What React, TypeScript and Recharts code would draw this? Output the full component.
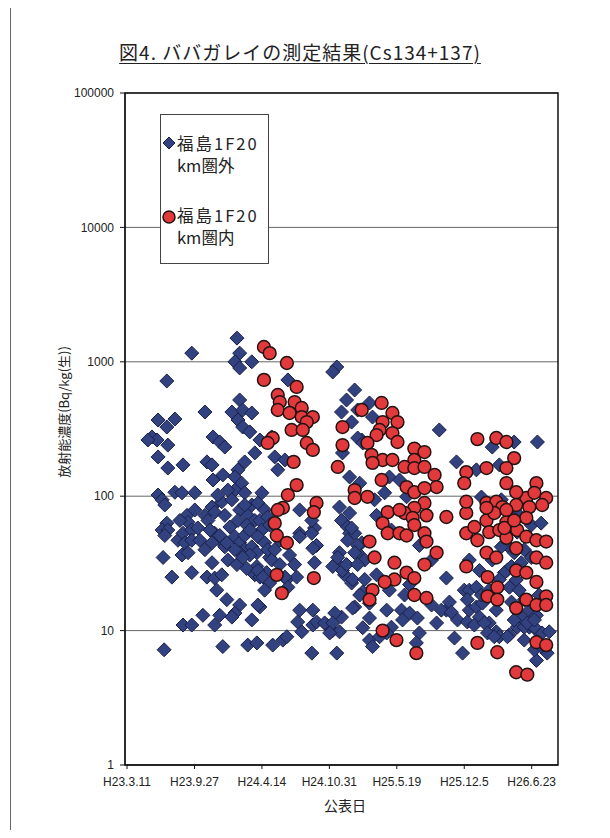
import React from 'react';
import { ScatterChart, Scatter, XAxis, YAxis, CartesianGrid, ReferenceArea } from 'recharts';

// x = days after H23.3.11 (publication date), y = Bq/kg
const outsideH23: [number, number][] = [
  [192, 1160], [118, 720], [231, 423], [92, 369], [142, 375], [118, 327], [74, 276], [89, 262], [62, 262],
  [121, 240], [255, 276], [275, 253], [290, 232], [92, 196], [121, 162], [166, 171], [237, 180], [252, 171],
  [284, 144], [255, 132], [142, 107], [163, 106], [201, 106], [92, 102], [104, 94], [112, 86], [281, 91],
  [252, 83], [231, 72], [260, 76], [240, 66], [178, 72], [181, 64], [118, 63], [104, 56], [121, 56], [112, 51],
  [151, 47], [166, 53], [192, 56], [210, 58], [172, 45], [192, 47], [260, 53], [275, 47], [290, 42], [252, 45],
  [107, 35], [163, 36.5], [181, 38], [252, 32], [133, 25], [192, 27], [237, 25], [260, 24.6], [281, 26],
  [266, 20], [225, 13], [275, 13], [260, 11], [166, 11], [192, 11], [110, 7.2], [284, 7.6], [275, 51],
  [269, 102], [290, 72], [246, 56], [216, 47], [231, 40], [157, 66], [201, 79],
];

const outsideH24: [number, number][] = [
  [326, 1500], [334, 1160], [320, 1000], [370, 1000], [334, 900], [334, 520], [311, 423], [343, 438], [370, 416],
  [329, 369], [343, 327], [364, 301], [379, 210], [349, 180], [329, 157], [320, 139], [340, 125], [320, 111],
  [349, 106], [334, 79], [358, 72], [379, 66], [329, 66], [370, 86], [320, 50], [334, 45], [349, 40], [370, 42],
  [385, 38], [379, 26], [296, 17], [334, 15.5], [320, 13.5], [311, 12.6], [370, 12], [358, 7.8], [385, 8.1],
  [394, 15], [432, 7.8], [462, 8.5], [474, 9], [518, 9.8], [512, 14.2], [551, 14.2], [551, 11], [592, 11],
  [610, 10], [548, 6.8], [622, 6.8], [630, 83], [645, 63], [556, 58], [562, 43], [556, 32], [630, 38], [622, 32],
  [645, 26], [394, 66], [355, 61], [296, 45], [334, 38], [364, 36.5], [423, 35], [385, 30], [414, 27], [394, 25],
  [474, 24], [503, 25], [512, 53], [548, 53], [305, 59], [349, 51], [299, 33.5], [326, 31], [355, 29],
  [622, 915], [610, 840], [651, 520], [636, 423], [477, 733], [394, 262], [429, 276], [438, 196], [468, 186],
  [447, 157], [400, 106], [388, 89], [408, 79], [417, 70], [400, 56], [388, 50], [408, 45], [417, 40],
  [429, 33.5], [388, 28], [403, 25], [423, 22.6], [468, 25], [477, 21], [512, 79], [548, 66], [512, 50],
  [551, 41], [610, 30], [639, 28], [636, 66], [654, 59], [636, 12.6], [616, 13.5], [388, 15.5], [506, 11.6],
  [562, 11.6], [586, 11.4], [639, 210], [660, 139], [660, 75], [660, 53], [651, 31], [625, 35], [610, 11.4],
  [630, 9.8], [601, 9.6], [299, 111], [311, 94], [349, 86], [364, 56], [343, 35], [320, 40], [423, 61],
  [453, 47], [438, 40], [482, 36.5], [497, 31], [453, 31], [408, 20], [654, 47],
];

const outsideH25: [number, number][] = [
  [675, 617], [684, 438], [696, 262], [666, 22.6], [675, 53], [696, 45], [684, 38], [675, 15], [666, 356],
  [719, 494], [728, 388], [926, 311], [977, 180], [684, 271], [699, 249], [690, 125], [778, 139], [808, 132],
  [734, 94], [764, 106], [829, 99], [666, 58], [684, 43], [675, 38], [669, 24], [699, 19.4], [719, 16],
  [669, 14.7], [719, 12.4], [699, 10.5], [719, 8.5], [728, 7.6], [749, 9], [770, 14.2], [814, 14.2], [817, 12],
  [838, 13.5], [861, 12.4], [867, 9.6], [858, 8.1], [784, 10.6], [770, 9.6], [918, 11.4], [947, 14.2],
  [956, 16.3], [971, 8.8], [995, 6.8], [1015, 14.2], [947, 24.6], [1000, 20], [1015, 20], [1009, 17],
  [932, 14.2], [962, 13.7], [980, 12], [1009, 11.6], [740, 72], [784, 56], [705, 33.5], [740, 26], [778, 20],
  [823, 18.4], [838, 22], [867, 43], [903, 33.5], [903, 15.5], [684, 31], [705, 24], [690, 18.4], [1015, 33.5],
];

const outsideH26: [number, number][] = [
  [1217, 253], [1083, 232], [1036, 157], [1104, 171], [1036, 15], [1045, 12.6], [1074, 11.4], [1095, 9.8],
  [1104, 9], [1134, 9.3], [1157, 10.6], [1172, 12.4], [1193, 10.6], [1214, 10.1], [1231, 9.6], [1252, 9.8],
  [1128, 28.2], [1154, 23.8], [1134, 21], [1036, 21], [1054, 16], [1095, 14.2], [1193, 14.2], [1214, 13],
  [1246, 6.8], [1214, 6], [1148, 253], [1051, 98.6], [1080, 86], [1110, 94], [1157, 75], [1140, 70],
  [1128, 43], [1157, 54], [1199, 61], [1228, 63], [1110, 42], [1148, 38], [1178, 40], [1199, 35], [1083, 33.5],
  [1119, 27], [1140, 30], [1169, 32], [1051, 18.4], [1030, 11], [1060, 11.4], [1140, 16.3], [1148, 12],
  [1178, 10.6], [1208, 10.6], [1069, 9.6], [1089, 9], [1128, 9], [1178, 8.5], [1208, 7.2], [1228, 7.6],
  [1187, 11.4], [1208, 12], [1045, 28], [1104, 24], [1163, 20], [1222, 18.4], [1178, 17], [1074, 20],
];

const insideH24: [number, number][] = [
  [406, 1290], [423, 1160], [474, 980], [406, 733], [503, 650], [447, 566], [453, 502], [447, 438], [497, 502],
  [518, 453], [482, 416], [518, 388], [551, 388], [533, 356], [488, 311], [521, 311], [432, 271], [417, 249],
  [533, 249], [551, 221], [494, 180], [503, 121], [477, 102], [462, 82], [447, 79], [562, 89], [554, 76],
  [438, 63], [444, 51], [474, 45], [444, 26], [459, 19], [554, 24.6], [639, 327], [639, 240], [625, 165],
];

const insideH25: [number, number][] = [
  [696, 438], [675, 111], [675, 97], [755, 494], [787, 416], [802, 356], [758, 356], [749, 311], [787, 295],
  [802, 253], [740, 285], [713, 249], [725, 203], [758, 186], [787, 186], [728, 177], [852, 226], [882, 213],
  [852, 186], [823, 165], [852, 162], [882, 165], [912, 144], [918, 117], [1006, 151], [1000, 125], [713, 99],
  [755, 132], [829, 117], [852, 107], [882, 115], [882, 89], [852, 82], [823, 75], [773, 76], [947, 70],
  [1006, 75], [1006, 91], [808, 79], [888, 72], [847, 69], [758, 63], [773, 53], [808, 53], [829, 51], [852, 61],
  [882, 53], [888, 46], [719, 46], [734, 35], [793, 32], [882, 31], [918, 38], [829, 27], [852, 24.6], [793, 24],
  [764, 23], [728, 20], [719, 17], [852, 18.4], [888, 17.5], [758, 10], [799, 8.5], [858, 6.8], [1006, 53],
  [1006, 30],
];

const insideH26: [number, number][] = [
  [1039, 266], [1095, 271], [1125, 253], [1066, 162], [1148, 192], [1125, 162], [1125, 125], [1214, 125],
  [1243, 97], [1184, 97], [1154, 107], [1066, 89], [1095, 91], [1113, 83], [1154, 86], [1193, 83], [1231, 86],
  [1030, 59], [1066, 66], [1074, 54], [1104, 56], [1125, 64], [1157, 56], [1184, 69], [1039, 47], [1066, 38],
  [1095, 35], [1125, 49], [1154, 41], [1184, 50], [1214, 47], [1243, 46], [1214, 35], [1243, 32], [1069, 25],
  [1098, 21], [1069, 18], [1098, 17], [1154, 28], [1184, 27], [1214, 23], [1154, 14.7], [1184, 17],
  [1214, 15.5], [1243, 18], [1243, 15.5], [1039, 8.1], [1098, 6.9], [1214, 8.2], [1243, 7.8], [1154, 4.9],
  [1187, 4.7], [1089, 75], [1125, 79], [1119, 58], [1148, 66], [1066, 82], [1208, 106],
];

const dateTicks = [0, 200, 400, 600, 800, 1000, 1200];
const dateLabels = ['H23.3.11', 'H23.9.27', 'H24.4.14', 'H24.10.31', 'H25.5.19', 'H25.12.5', 'H26.6.23'];
const yTicks = [1, 10, 100, 1000, 10000, 100000];

const BLUE = '#32417f';
const RED = '#e23a3c';

const toPoints = (rows: [number, number][]) => rows.map(([x, y]) => ({ x, y }));
const outsideData = toPoints([...outsideH23, ...outsideH24, ...outsideH25, ...outsideH26]);
const insideData = toPoints([...insideH24, ...insideH25, ...insideH26]);

const Diamond = (props: any) => {
  const { cx, cy } = props;
  if (cx == null || cy == null) return null;
  const r = 7;
  return (
    <polygon
      points={`${cx},${cy - r} ${cx + r},${cy} ${cx},${cy + r} ${cx - r},${cy}`}
      fill={BLUE}
      stroke="#1a2148"
      strokeWidth={1}
    />
  );
};

const Dot = (props: any) => {
  const { cx, cy } = props;
  if (cx == null || cy == null) return null;
  return <circle cx={cx} cy={cy} r={6.4} fill={RED} stroke="#241212" strokeWidth={1.5} />;
};

const cjk = '"Noto Sans CJK JP", "Noto Sans", sans-serif';
const latin = '"Liberation Sans", Arial, sans-serif';

export default function App() {
  return (
    <div style={{ position: 'relative', width: 600, height: 822, background: '#fff' }}>
      <div style={{ position: 'absolute', left: 2, top: -8, height: 838, borderLeft: '1.5px solid #666' }} />

      <div
        style={{
          position: 'absolute', left: 0, top: 31, width: 584, textAlign: 'center',
          fontFamily: cjk, fontSize: 19, lineHeight: '26px', letterSpacing: 1, color: '#222',
          textDecoration: 'underline', textUnderlineOffset: 3,
        }}
      >
        図4. ババガレイの測定結果(Cs134+137)
      </div>

      <ScatterChart width={600} height={822} margin={{ top: 85, right: 50, bottom: 15, left: 0 }}>
        <CartesianGrid vertical={false} stroke="#666" />
        <XAxis
          type="number"
          dataKey="x"
          domain={[-6, 1278]}
          ticks={dateTicks}
          interval={0}
          allowDataOverflow
          tickFormatter={(v: number) => dateLabels[dateTicks.indexOf(v)]}
          height={50}
          tickSize={4}
          tickMargin={8}
          stroke="#111"
          tick={{ fontSize: 12, fontFamily: latin, fill: '#222' }}
        />
        <YAxis
          type="number"
          dataKey="y"
          scale="log"
          domain={[1, 100000]}
          ticks={yTicks}
          interval={0}
          allowDataOverflow
          width={117}
          tickSize={5}
          tickMargin={6}
          stroke="#111"
          tick={{ fontSize: 12, fontFamily: latin, fill: '#222' }}
        />
        <ReferenceArea x1={-6} x2={1278} y1={1} y2={100000} fill="none" stroke="#111" strokeWidth={1.5} />
        <Scatter data={outsideData} shape={Diamond} isAnimationActive={false} />
        <Scatter data={insideData} shape={Dot} isAnimationActive={false} />
      </ScatterChart>

      <div
        style={{
          position: 'absolute', left: 55, top: 404, transform: 'translate(-50%, -50%) rotate(-90deg)',
          whiteSpace: 'nowrap', fontFamily: cjk, fontSize: 13, color: '#222',
        }}
      >
        放射能濃度(Bq/kg(生))
      </div>

      <div
        style={{
          position: 'absolute', left: 337, top: 797, transform: 'translate(-50%, -50%)',
          fontFamily: cjk, fontSize: 14, color: '#222',
        }}
      >
        公表日
      </div>

      <div
        style={{
          position: 'absolute', left: 152, top: 106, width: 107, height: 148,
          border: '1px solid #444', background: '#fff', fontFamily: cjk, fontSize: 16.5, color: '#222',
        }}
      >
        <svg width={16} height={16} style={{ position: 'absolute', left: 0, top: 20 }}>
          <polygon points="8,2 14,8 8,14 2,8" fill={BLUE} stroke="#1a2148" strokeWidth={1} />
        </svg>
        <div style={{ position: 'absolute', left: 16, top: 19, lineHeight: '18px', letterSpacing: 2 }}>福島1F20</div>
        <div style={{ position: 'absolute', left: 16, top: 41, lineHeight: '18px' }}>km圏外</div>

        <svg width={16} height={16} style={{ position: 'absolute', left: 0, top: 94 }}>
          <circle cx={8} cy={8} r={6} fill={RED} stroke="#241212" strokeWidth={1.5} />
        </svg>
        <div style={{ position: 'absolute', left: 16, top: 91, lineHeight: '18px', letterSpacing: 2 }}>福島1F20</div>
        <div style={{ position: 'absolute', left: 16, top: 113, lineHeight: '18px' }}>km圏内</div>
      </div>
    </div>
  );
}
